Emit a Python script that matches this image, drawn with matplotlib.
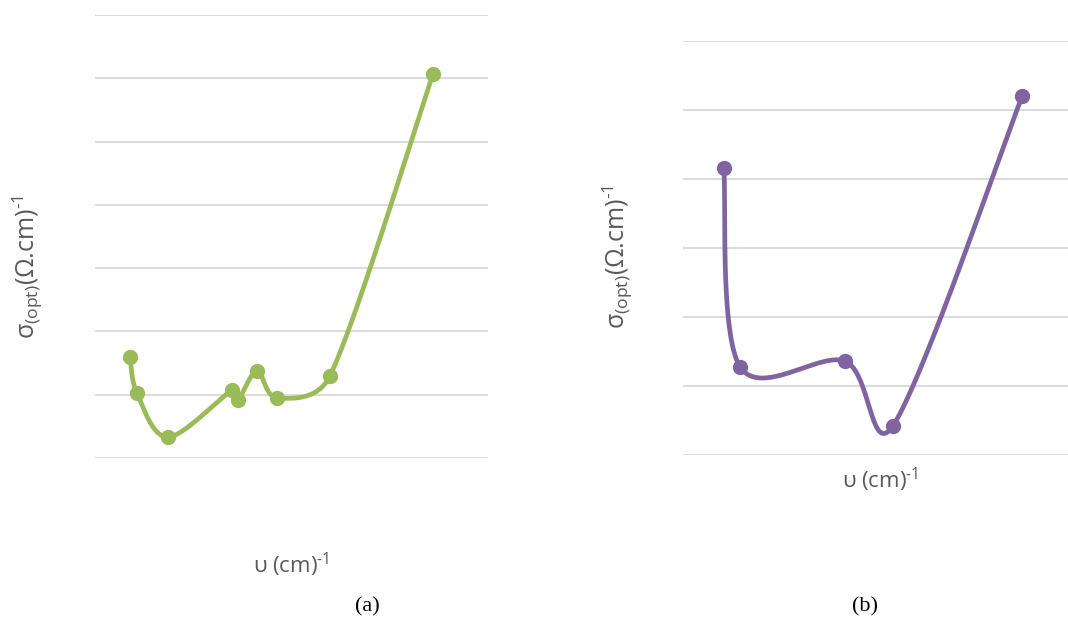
import numpy as np
import matplotlib.pyplot as plt

# panel (a) data
xa = [0.89, 1.07, 1.86, 3.49, 3.64, 4.12, 4.63, 5.98, 8.60]
ya = [1.60, 1.02, 0.33, 1.07, 0.92, 1.37, 0.95, 1.30, 6.07]
# panel (b) data
xb = [1.06, 1.48, 4.21, 5.45, 8.81]
yb = [4.16, 1.28, 1.36, 0.42, 5.20]

green = "#9BBB59"
purple = "#8064A2"
grey = "#595959"

plt.rcParams["font.family"] = ["Open Sans", "DejaVu Sans"]
plt.rcParams["mathtext.fontset"] = "custom"
plt.rcParams["mathtext.rm"] = "Open Sans"


def smooth(ax, x, y, n=40):
    # Excel-like smoothing: bezier in display space, handles capped at half the segment
    pts = ax.transData.transform(np.column_stack([x, y]))
    p = np.vstack([pts[0], pts, pts[-1]])
    out = []
    t = np.linspace(0, 1, n)[:, None]
    for i in range(1, len(p) - 2):
        p0, p1, p2, p3 = p[i - 1], p[i], p[i + 1], p[i + 2]
        d = np.hypot(*(p2 - p1))
        h1 = (p2 - p0) / 6
        h2 = (p3 - p1) / 6
        if np.hypot(*h1) > d / 2:
            h1 = h1 / np.hypot(*h1) * d / 2
        if np.hypot(*h2) > d / 2:
            h2 = h2 / np.hypot(*h2) * d / 2
        c1 = p1 + h1
        c2 = p2 - h2
        seg = ((1 - t) ** 3) * p1 + 3 * ((1 - t) ** 2) * t * c1 + 3 * (1 - t) * t ** 2 * c2 + t ** 3 * p2
        out.append(seg)
    out = np.vstack(out)
    return ax.transData.inverted().transform(out)


fig = plt.figure(figsize=(10.68, 6.22), dpi=100)
ax1 = fig.add_axes([0.089, 0.2637, 0.368, 0.7122])
ax2 = fig.add_axes([0.6395, 0.2685, 0.3605, 0.6656])

for ax, x, y, col, ymax in [(ax1, xa, ya, green, 7), (ax2, xb, yb, purple, 6)]:
    ax.set_xlim(0, 10)
    ax.set_ylim(0, ymax)
    ax.set_yticks(range(ymax + 1))
    ax.grid(axis="y", color="#D9D9D9", linewidth=1.3)
    ax.set_axisbelow(True)
    for s in ax.spines.values():
        s.set_visible(False)
    ax.tick_params(left=False, bottom=False, labelleft=False, labelbottom=False)
    curve = smooth(ax, x, y)
    ax.plot(curve[:, 0], curve[:, 1], color=col, linewidth=3.4, solid_capstyle="round", clip_on=False)
    ax.plot(x, y, "o", color=col, markersize=10, clip_on=False)

ylab = r"σ$_\mathregular{(opt)}$(Ω.cm)$^{\text{-}1}$"
xlab = r"υ (cm)$^{\text{-}1}$"
fig.text(0.026, 0.571, ylab, rotation=90, ha="center", va="center", fontsize=18, color=grey)
fig.text(0.578, 0.587, ylab, rotation=90, ha="center", va="center", fontsize=18, color=grey)
fig.text(0.273, 0.092, xlab, ha="center", va="center", fontsize=16, color=grey)
fig.text(0.824, 0.229, xlab, ha="center", va="center", fontsize=16, color=grey)
fig.text(0.344, 0.024, "(a)", ha="center", va="center", fontsize=16, family="Liberation Serif")
fig.text(0.81, 0.024, "(b)", ha="center", va="center", fontsize=16, family="Liberation Serif")

fig.savefig("out.png", dpi=100)
